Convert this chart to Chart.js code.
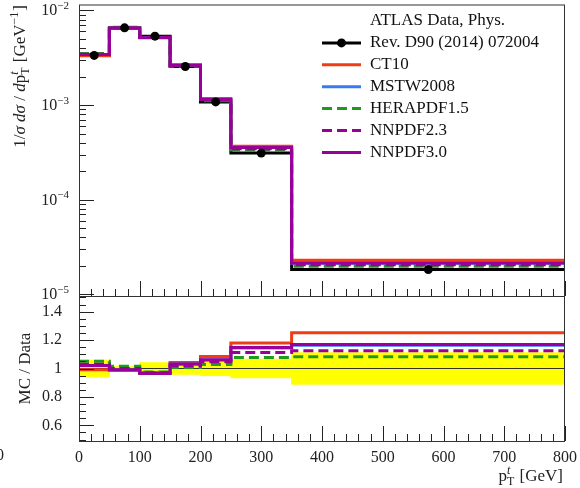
<!DOCTYPE html>
<html>
<head>
<meta charset="utf-8">
<script src="https://cdn.jsdelivr.net/npm/chart.js@4.4.1/dist/chart.umd.min.js"></script>
<style>
  body { margin: 0; background: #fff; }
  #wrap { position: relative; width: 580px; height: 488px; overflow: hidden; }
  #main { position: absolute; left: 0; top: 0; }
  #ratio { position: absolute; left: 0; top: 296px; }
</style>
</head>
<body>
<div id="wrap">
  <canvas id="main" width="580" height="310"></canvas>
  <canvas id="ratio" width="580" height="192"></canvas>
</div>
<script>
'use strict'

// bins in pT [GeV]
var binEdges = [0, 50, 100, 150, 200, 250, 350, 800];
// ATLAS data, 1/sigma dsigma/dpT
var dataValues = [3.35e-3, 6.56e-3, 5.35e-3, 2.56e-3, 1.08e-3, 3.11e-4, 1.83e-5];
// relative data uncertainty (yellow band)
var dataRelErr = [0.058, 0.012, 0.04, 0.04, 0.05, 0.065, 0.11];
// predictions
var ct10 = [3.32e-3, 6.49e-3, 5.19e-3, 2.67e-3, 1.172e-3, 3.67e-4, 2.29e-5];
var mstw2008 = [3.42e-3, 6.49e-3, 5.19e-3, 2.64e-3, 1.145e-3, 3.56e-4, 2.13e-5];
var herapdf15 = [3.52e-3, 6.66e-3, 5.22e-3, 2.58e-3, 1.11e-3, 3.35e-4, 1.98e-5];
var nnpdf23 = [3.45e-3, 6.56e-3, 5.19e-3, 2.61e-3, 1.132e-3, 3.46e-4, 2.06e-5];
var nnpdf30 = [3.42e-3, 6.49e-3, 5.16e-3, 2.64e-3, 1.147e-3, 3.57e-4, 2.14e-5];

var legendTitle = 'ATLAS Data, Phys.';
var dataLabel = 'Rev. D90 (2014) 072004';
var xTicks = [0, 100, 200, 300, 400, 500, 600, 700, 800];
var yDecades = [-5, -4, -3, -2];
var ratioTicks = [0.6, 0.8, 1, 1.2, 1.4];

var models = [
  { label: 'CT10', values: ct10, color: '#f03c14', dash: [] },
  { label: 'MSTW2008', values: mstw2008, color: '#3a78f5', dash: [] },
  { label: 'HERAPDF1.5', values: herapdf15, color: '#1f9a1f', dash: [10, 5] },
  { label: 'NNPDF2.3', values: nnpdf23, color: '#990099', dash: [10, 5] },
  { label: 'NNPDF3.0', values: nnpdf30, color: '#990099', dash: [] }
];

var FONT = '"Liberation Serif", "DejaVu Serif", serif';
var INK = '#222';

function steps(values) {
  var pts = [];
  for (var i = 0; i < values.length; i++) {
    pts.push({ x: binEdges[i], y: values[i] });
  }
  pts.push({ x: binEdges[binEdges.length - 1], y: values[values.length - 1] });
  return pts;
}

function ratioOf(values) {
  return values.map(function (v, i) { return v / dataValues[i]; });
}

function serif(size, italic) {
  return (italic ? 'italic ' : '') + size + 'px ' + FONT;
}

// text with italics, super- and subscripts
function drawRich(ctx, parts, x, y, size, align) {
  var small = Math.round(size * 0.68);
  var widths = parts.map(function (p) {
    if (p.t !== undefined) {
      ctx.font = serif(size, p.i);
      return ctx.measureText(p.t).width;
    }
    var w = 0;
    if (p.sup) { ctx.font = serif(small, p.si); w = ctx.measureText(p.sup).width; }
    if (p.sub) { ctx.font = serif(small, false); w = Math.max(w, ctx.measureText(p.sub).width); }
    return w + 1;
  });
  var total = widths.reduce(function (s, w) { return s + w; }, 0);
  var cx = align === 'right' ? x - total : (align === 'center' ? x - total / 2 : x);
  ctx.textAlign = 'left';
  ctx.textBaseline = 'alphabetic';
  parts.forEach(function (p, i) {
    if (p.t !== undefined) {
      ctx.font = serif(size, p.i);
      ctx.fillText(p.t, cx, y);
    } else {
      if (p.sup) { ctx.font = serif(small, p.si); ctx.fillText(p.sup, cx, y - size * 0.4); }
      if (p.sub) { ctx.font = serif(small, false); ctx.fillText(p.sub, cx, y + size * 0.25); }
    }
    cx += widths[i];
  });
}

function frame(ctx, a) {
  ctx.strokeStyle = '#333';
  ctx.lineWidth = 1;
  ctx.strokeRect(a.left + 0.5, a.top + 0.5, a.right - a.left - 1, a.bottom - a.top);
}

function xMinorTicks(ctx, chart) {
  var a = chart.chartArea;
  var x = chart.scales.x;
  for (var t = 0; t <= 800; t += 20) {
    var px = Math.round(x.getPixelForValue(t)) + 0.5;
    ctx.moveTo(px, a.bottom);
    ctx.lineTo(px, a.bottom - (t % 100 === 0 ? 15 : 7));
  }
}

var mainDecor = {
  id: 'mainDecor',
  afterDatasetsDraw: function (chart) {
    var ctx = chart.ctx;
    var a = chart.chartArea;
    var y = chart.scales.y;
    ctx.save();
    ctx.strokeStyle = INK;
    ctx.lineWidth = 1;
    ctx.beginPath();
    yDecades.forEach(function (e) {
      for (var m = 1; m < 10; m++) {
        var v = m * Math.pow(10, e);
        if (v < y.min || v > y.max) continue;
        var py = Math.round(y.getPixelForValue(v)) + 0.5;
        ctx.moveTo(a.left, py);
        ctx.lineTo(a.left + (m === 1 ? 15 : 7), py);
      }
    });
    xMinorTicks(ctx, chart);
    ctx.stroke();
    frame(ctx, a);

    // log tick labels
    ctx.fillStyle = INK;
    yDecades.forEach(function (e) {
      var py = y.getPixelForValue(Math.pow(10, e));
      drawRich(ctx, [{ t: '10' }, { sup: '\u2212' + (-e) }], a.left - 9, py + 5, 16, 'right');
    });

    // y title
    ctx.save();
    ctx.translate(25, 5);
    ctx.rotate(-Math.PI / 2);
    drawRich(ctx, [
      { t: '1/' }, { t: '\u03c3', i: true }, { t: ' ' }, { t: 'd\u03c3', i: true }, { t: ' / ' },
      { t: 'd', i: true }, { t: 'p' }, { sup: 't', si: true, sub: 'T' },
      { t: ' [GeV' }, { sup: '\u22121' }, { t: ']' }
    ], 0, 0, 17, 'right');
    ctx.restore();

    // legend
    var rows = [{ text: legendTitle }, { text: dataLabel, color: '#000', dash: [], dot: true }];
    models.forEach(function (m) { rows.push({ text: m.label, color: m.color, dash: m.dash }); });
    rows.forEach(function (r, i) {
      var ly = 21 + i * 21.9;
      if (r.color) {
        ctx.beginPath();
        ctx.setLineDash(r.dash);
        ctx.strokeStyle = r.color;
        ctx.lineWidth = 3;
        ctx.moveTo(322, ly);
        ctx.lineTo(361, ly);
        ctx.stroke();
        ctx.setLineDash([]);
        if (r.dot) {
          ctx.beginPath();
          ctx.fillStyle = r.color;
          ctx.arc(341.5, ly, 4.5, 0, Math.PI * 2);
          ctx.fill();
        }
      }
      ctx.fillStyle = '#111';
      ctx.font = serif(17, false);
      ctx.textAlign = 'left';
      ctx.textBaseline = 'middle';
      ctx.fillText(r.text, 370, ly);
    });
    ctx.restore();
  }
};

var ratioDecor = {
  id: 'ratioDecor',
  afterDatasetsDraw: function (chart) {
    var ctx = chart.ctx;
    var a = chart.chartArea;
    var y = chart.scales.y;
    ctx.save();
    ctx.strokeStyle = INK;
    ctx.lineWidth = 1;
    ctx.beginPath();
    for (var k = 10; k <= 30; k++) {
      var v = k * 0.05;
      var major = ratioTicks.some(function (t) { return Math.abs(t - v) < 1e-6; });
      var py = Math.round(y.getPixelForValue(v)) + 0.5;
      ctx.moveTo(a.left, py);
      ctx.lineTo(a.left + (major ? 15 : 7), py);
    }
    xMinorTicks(ctx, chart);
    ctx.stroke();
    frame(ctx, a);

    ctx.fillStyle = INK;
    ctx.save();
    ctx.translate(30, (a.top + a.bottom) / 2);
    ctx.rotate(-Math.PI / 2);
    drawRich(ctx, [{ t: 'MC / Data' }], 0, 0, 17, 'center');
    ctx.restore();

    drawRich(ctx, [{ t: 'p' }, { sup: 't', si: true, sub: 'T' }, { t: ' [GeV]' }], 563, 185, 17, 'right');

    // clipped label at the left edge
    ctx.font = serif(16, false);
    ctx.textAlign = 'right';
    ctx.textBaseline = 'middle';
    ctx.fillText('0', 4, 160);
    ctx.restore();
  }
};

var mainSets = [];
mainSets.push({
  data: dataValues.map(function (v, i) { return { x: (binEdges[i] + binEdges[i + 1]) / 2, y: v }; }),
  showLine: false,
  pointRadius: 4.5,
  pointBackgroundColor: '#000',
  pointBorderWidth: 0,
  order: 0
});
models.forEach(function (m, k) {
  mainSets.push({
    data: steps(m.values),
    stepped: true,
    borderColor: m.color,
    borderDash: m.dash,
    borderWidth: 3,
    pointRadius: 0,
    fill: false,
    order: models.length - k
  });
});
mainSets.push({
  data: steps(dataValues),
  stepped: true,
  borderColor: '#000',
  borderWidth: 3,
  pointRadius: 0,
  fill: false,
  order: 10
});

var ratioSets = [];
models.forEach(function (m, k) {
  ratioSets.push({
    data: steps(ratioOf(m.values)),
    stepped: true,
    borderColor: m.color,
    borderDash: m.dash,
    borderWidth: 3,
    pointRadius: 0,
    fill: false,
    order: models.length - k
  });
});
ratioSets.push({
  data: [{ x: 0, y: 1 }, { x: 800, y: 1 }],
  borderColor: '#333',
  borderWidth: 1,
  pointRadius: 0,
  fill: false,
  order: 8
});
ratioSets.push({
  data: steps(dataRelErr.map(function (e) { return 1 + e; })),
  stepped: true,
  borderColor: '#ffff00',
  borderWidth: 1,
  backgroundColor: '#ffff00',
  pointRadius: 0,
  fill: '+1',
  order: 9
});
ratioSets.push({
  data: steps(dataRelErr.map(function (e) { return 1 - e; })),
  stepped: true,
  borderColor: '#ffff00',
  borderWidth: 1,
  pointRadius: 0,
  fill: false,
  order: 9
});

var mainChart = new Chart(document.getElementById('main'), {
  type: 'line',
  data: { datasets: mainSets },
  options: {
    responsive: false,
    animation: false,
    devicePixelRatio: 1,
    layout: { padding: { top: 4, right: 15, bottom: 14, left: 0 } },
    plugins: { legend: { display: false }, tooltip: { enabled: false } },
    scales: {
      x: { type: 'linear', min: 0, max: 800, display: false },
      y: {
        type: 'logarithmic',
        min: 0.96e-5,
        max: 1.157e-2,
        grid: { display: false },
        border: { display: false },
        ticks: { display: false },
        afterFit: function (s) { s.width = 79; s.paddingTop = 0; s.paddingBottom = 0; }
      }
    }
  },
  plugins: [mainDecor]
});

var ratioChart = new Chart(document.getElementById('ratio'), {
  type: 'line',
  data: { datasets: ratioSets },
  options: {
    responsive: false,
    animation: false,
    devicePixelRatio: 1,
    layout: { padding: { top: 0, right: 15, bottom: 0, left: 0 } },
    plugins: { legend: { display: false }, tooltip: { enabled: false } },
    scales: {
      x: {
        type: 'linear',
        min: 0,
        max: 800,
        grid: { display: false },
        border: { display: false },
        afterBuildTicks: function (s) { s.ticks = xTicks.map(function (v) { return { value: v }; }); },
        ticks: { font: { family: FONT, size: 16 }, color: INK, padding: -1, maxRotation: 0, autoSkip: false },
        afterFit: function (s) { s.height = 47; s.paddingLeft = 0; s.paddingRight = 0; }
      },
      y: {
        type: 'linear',
        min: 0.49,
        max: 1.51,
        grid: { display: false },
        border: { display: false },
        afterBuildTicks: function (s) { s.ticks = ratioTicks.map(function (v) { return { value: v }; }); },
        ticks: {
          font: { family: FONT, size: 16 },
          color: INK,
          padding: 9,
          callback: function (v) { return String(v); }
        },
        afterFit: function (s) { s.width = 79; s.paddingTop = 0; s.paddingBottom = 0; }
      }
    }
  },
  plugins: [ratioDecor]
});
</script>
</body>
</html>
